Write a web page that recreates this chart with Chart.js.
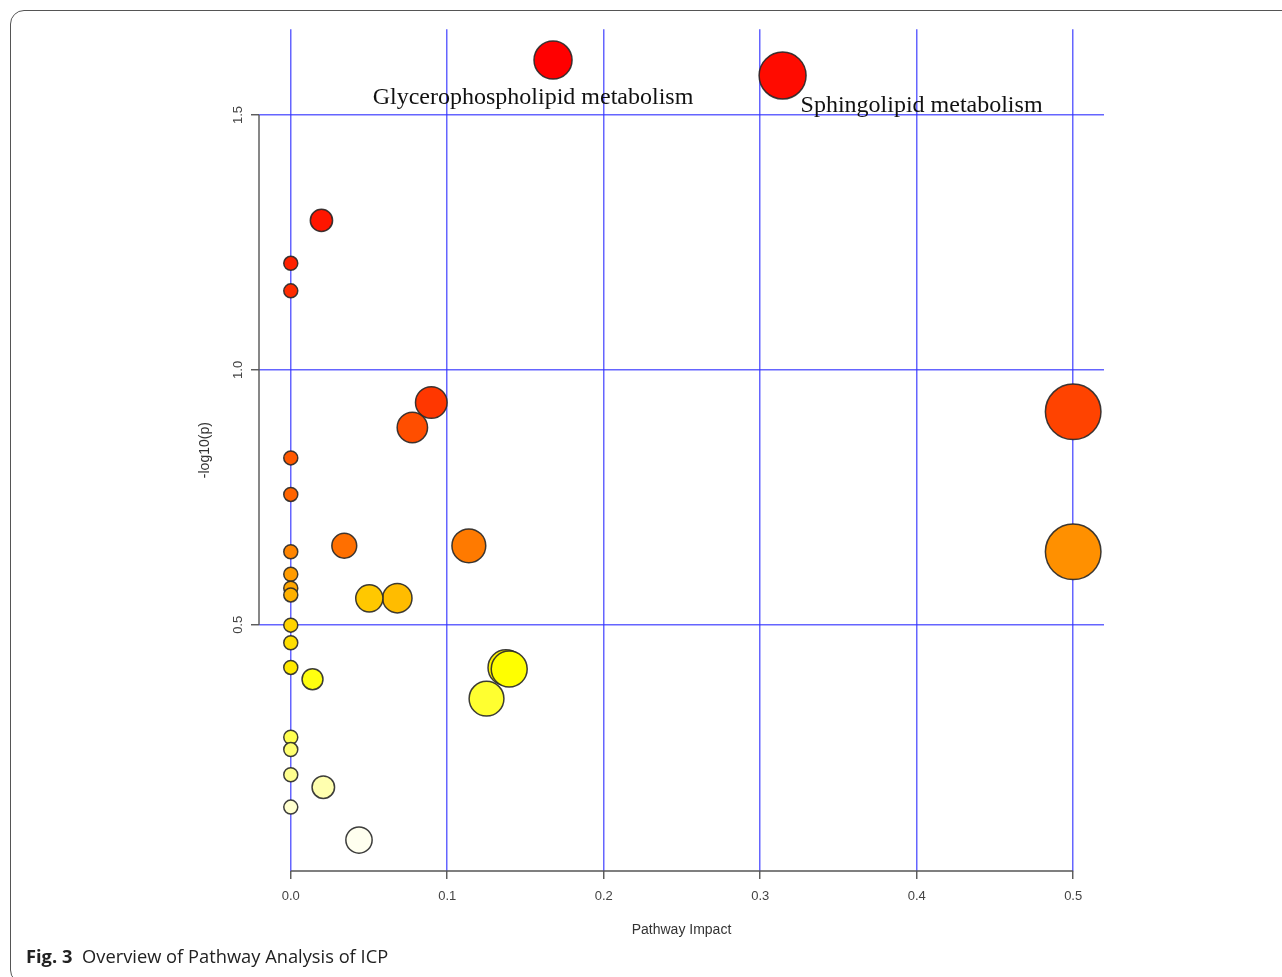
<!DOCTYPE html>
<html>
<head>
<meta charset="utf-8">
<script src="https://cdn.jsdelivr.net/npm/chart.js@4"></script>
<style>
    body { margin: 0; background: #fff; overflow: hidden; }
    #frame {
        position: absolute; left: 10px; top: 10px;
        width: 1300px; height: 972px;
        border: 1.5px solid #555; border-radius: 14px;
    }
    #graph_pathway { position: absolute; left: 0; top: 0; }
    #caption {
        position: absolute; left: 26px; top: 943px;
        font-family: 'Open Sans', 'Noto Sans', sans-serif; font-size: 18.3px;
        color: #222; white-space: nowrap;
    }
    #caption b { font-weight: 700; margin-right: 5px; }
</style>
</head>
<body>
<div id="frame"></div>
<canvas id="graph_pathway" width="1282" height="977"></canvas>
<div id="caption"><b>Fig. 3</b> Overview of Pathway Analysis of ICP</div>

<script>
// ############################## PATHWAY ANALYSIS ICP ############################### //
// pathways, ordered by -log10(p), highest first
const impact = [0.1676, 0.3143, 0.0196, 0, 0, 0.0898, 0.5, 0.0777, 0, 0,
                0.0342, 0.1138, 0, 0.5, 0, 0, 0, 0.0681, 0.0502, 0,
                0, 0, 0.1375, 0.1396, 0.0139, 0.1251, 0, 0, 0, 0.0208,
                0, 0.0436];
const logp = [1.6076, 1.5773, 1.2932, 1.209, 1.155, 0.936, 0.9178, 0.887, 0.8274, 0.7557,
              0.655, 0.655, 0.6434, 0.6433, 0.5992, 0.5718, 0.5587, 0.5522, 0.5519, 0.4994,
              0.4648, 0.4165, 0.416, 0.4133, 0.3933, 0.3552, 0.2795, 0.2554, 0.2059, 0.1816,
              0.1425, 0.0779];

const xTicks = [0, 0.1, 0.2, 0.3, 0.4, 0.5];
const yTicks = [0.5, 1.0, 1.5];

const labelText = ['Glycerophospholipid metabolism', 'Sphingolipid metabolism'];
const labelX = [0.1548, 0.4031];
const labelY = [1.5221, 1.5059];

// R heat.colors(n)
function heatColor(k, n) {
    const j = Math.floor(n / 4);
    const i = n - j;
    if (k < i) {
        const h = (k / (i - 1)) * 60;
        return `hsl(${h}, 100%, 50%)`;
    }
    const m = k - i;
    const s = (1 - 1 / (2 * j)) - m * ((1 - 1 / j) / (j - 1));
    const b = Math.round(255 * (1 - s));
    return `rgb(255, 255, ${b})`;
}

const points = [];
for (let i = 0; i < impact.length; i++) {
    points.push({x: impact[i], y: logp[i]});
}

// axes drawn R style: line only from first to last tick
const rAxes = {
    id: 'rAxes',
    beforeDatasetsDraw(chart) {
        const {ctx, scales: {x, y}, chartArea} = chart;
        ctx.save();
        ctx.strokeStyle = '#555';
        ctx.lineWidth = 1.4;
        ctx.beginPath();
        ctx.moveTo(x.getPixelForValue(xTicks[0]), chartArea.bottom);
        ctx.lineTo(x.getPixelForValue(xTicks[xTicks.length - 1]), chartArea.bottom);
        ctx.moveTo(chartArea.left, y.getPixelForValue(yTicks[0]));
        ctx.lineTo(chartArea.left, y.getPixelForValue(yTicks[yTicks.length - 1]));
        ctx.stroke();
        ctx.restore();
    },
    afterDatasetsDraw(chart) {
        const {ctx, scales: {x, y}} = chart;
        ctx.save();
        ctx.fillStyle = '#111';
        ctx.font = '24px "Liberation Serif", "Times New Roman", serif';
        ctx.textAlign = 'center';
        ctx.textBaseline = 'alphabetic';
        for (let i = 0; i < labelText.length; i++) {
            ctx.fillText(labelText[i], x.getPixelForValue(labelX[i]), y.getPixelForValue(labelY[i]));
        }
        ctx.restore();
    }
};

const config = {
    type: 'bubble',
    data: {
        datasets: [{
            label: 'pathways',
            data: points,
            backgroundColor: (c) => heatColor(c.dataIndex, impact.length),
            borderColor: 'rgba(40, 40, 40, 0.9)',
            borderWidth: 1.5,
            radius: (c) => 7 + 29.4 * Math.sqrt(c.raw ? c.raw.x : 0),
            clip: false
        }]
    },
    options: {
        responsive: false,
        animation: false,
        events: [],
        layout: {padding: {top: 27, right: 178, left: 0, bottom: 0}},
        scales: {
            x: {
                type: 'linear',
                min: -0.0203,
                max: 0.5197,
                afterBuildTicks: (s) => { s.ticks = xTicks.map(v => ({value: v})); },
                afterFit: (s) => { s.height = 106; },
                border: {display: false},
                grid: {color: 'rgba(50, 50, 255, 0.75)', lineWidth: 1.5, tickColor: '#555', tickWidth: 1.4, tickLength: 8},
                ticks: {
                    padding: 10,
                    color: '#444',
                    font: {family: 'Liberation Sans', size: 13},
                    callback: (v) => v.toFixed(1)
                },
                title: {
                    display: true,
                    text: 'Pathway Impact',
                    color: '#333',
                    font: {family: 'Liberation Sans', size: 14},
                    padding: {bottom: 38.6}
                }
            },
            y: {
                type: 'linear',
                min: 0.0172,
                max: 1.668,
                afterBuildTicks: (s) => { s.ticks = yTicks.map(v => ({value: v})); },
                afterFit: (s) => { s.width = 259; },
                border: {display: false},
                grid: {color: 'rgba(50, 50, 255, 0.75)', lineWidth: 1.5, tickColor: '#555', tickWidth: 1.4, tickLength: 8},
                ticks: {
                    padding: 4,
                    minRotation: 90,
                    maxRotation: 90,
                    crossAlign: 'center',
                    color: '#444',
                    font: {family: 'Liberation Sans', size: 13},
                    callback: (v) => v.toFixed(1)
                },
                title: {
                    display: true,
                    text: '-log10(p)',
                    color: '#333',
                    font: {family: 'Liberation Sans', size: 14},
                    padding: {top: 196.6}
                }
            }
        },
        plugins: {
            legend: {display: false},
            tooltip: {enabled: false}
        }
    },
    plugins: [rAxes]
};

const pathway_chart = new Chart(
    document.getElementById('graph_pathway'),
    config
);
// ###################################################################################### //
</script>
</body>
</html>
